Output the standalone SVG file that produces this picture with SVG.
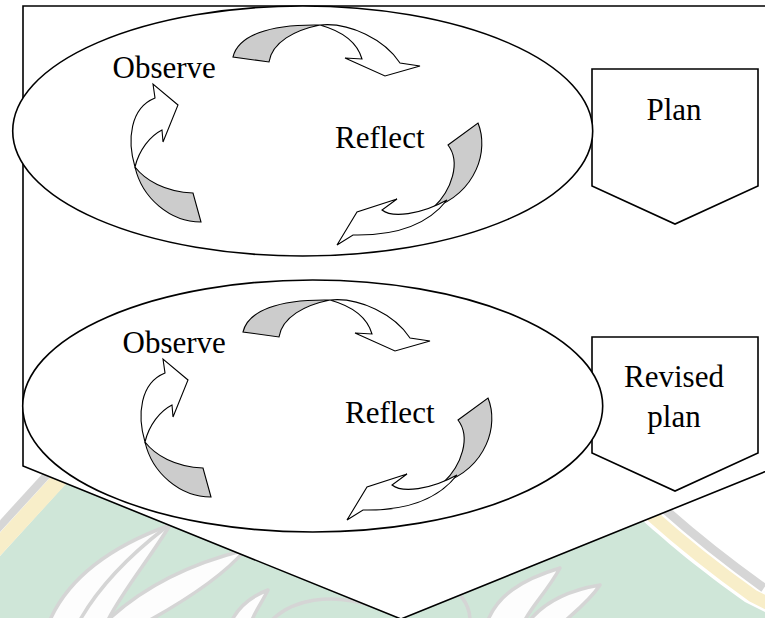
<svg xmlns="http://www.w3.org/2000/svg" width="765" height="618" viewBox="0 0 765 618">
<style>
.ln{fill:#fff;stroke:#000;stroke-width:1.6;stroke-linejoin:miter}
.arw{fill:#fff;stroke:#000;stroke-width:1.1;stroke-linejoin:miter}
.shd{fill:#cccccc;stroke:#000;stroke-width:1.1}
.lbl{font-family:"Liberation Serif","Times New Roman",serif;font-size:31px;fill:#000}
.wm-leaf{fill:#fdfdfd;stroke:#d5d5d5;stroke-width:3.5;stroke-linejoin:round}
.wm-line{fill:none;stroke:#d5d5d5;stroke-width:3.5;stroke-linecap:round}
</style>
<defs>
<g id="arrowset">
  <!-- top arrow -->
  <path class="shd" d="M233,57 C238,36 268,24 320,25 C295,30 272,42 269,62 Z"/>
  <path class="arw" d="M320,25 C350,22 385,40 400,63 L420,66 L385,76 L345,58 L362,59 C358,45 345,32 320,25 Z"/>
  <!-- right arrow -->
  <path class="shd" d="M448,145 L478,123 C489,150 477,192 433,208 C452,190 461,162 448,145 Z"/>
  <path class="arw" d="M447,200 C430,222 400,236 353,235 L337,245 L357,212 L397,199 L382,210 C392,218 420,215 447,200 Z"/>
  <!-- left arrow -->
  <path class="shd" d="M135,167 C145,180 165,192 193,193 L201,222 C170,222 142,198 135,167 Z"/>
  <path class="arw" d="M135,167 C127,140 130,108 155,98 L153,84 L178,105 L163,142 L162,130 C150,136 139,150 135,167 Z"/>
</g>
</defs>

<g id="watermark">
  <path fill="#cfe6d8" d="M-20,578 L110,435 L610,440 L642,520 C670,545 700,570 745,602 L765,612 L765,618 L-20,618 Z"/>
  <path fill="none" stroke="#f8eec9" stroke-width="16" d="M-30,577 L100,435"/>
  <path fill="none" stroke="#d6d6d6" stroke-width="8" d="M-43,573 L88,430"/>
  <path fill="none" stroke="#f8eec9" stroke-width="13" d="M618,454 L650,514 C678,539 708,564 753,596 L773,606"/>
  <path fill="none" stroke="#d6d6d6" stroke-width="9" d="M630,445 L661,506 C689,531 719,556 764,588"/>
  <path class="wm-leaf" d="M50,620 C70,575 115,545 170,525 C150,558 122,592 108,620 Z"/>
  <path class="wm-line" d="M80,620 C100,585 130,555 165,528"/>
  <path class="wm-leaf" d="M108,620 C140,590 185,565 245,550 C220,580 175,606 150,620 Z"/>
  <path class="wm-leaf" d="M232,620 C240,605 252,596 268,590 C262,602 255,612 252,620 Z"/>
  <path class="wm-line" d="M272,620 C292,600 330,592 372,606"/>
  <path class="wm-line" d="M440,580 C460,590 470,605 470,620"/>
  <path class="wm-leaf" d="M488,620 C498,596 520,580 560,568 C548,590 532,606 525,620 Z"/>
  <path class="wm-leaf" d="M530,620 C545,602 570,590 600,585 C590,600 575,612 566,620 Z"/>
</g>

<g id="frame">
  <polygon class="ln" points="23,6 779,6 779,466 401,619 23,466"/>
</g>

<g id="plan">
  <polygon class="ln" points="592,69 758,69 758,186 675,224 592,186"/>
  <text class="lbl" x="674" y="120" text-anchor="middle">Plan</text>
</g>
<g id="revised-plan">
  <polygon class="ln" points="592,337 758,337 758,453 675,491 592,453"/>
  <text class="lbl" x="674" y="387" text-anchor="middle">Revised</text>
  <text class="lbl" x="674" y="427" text-anchor="middle">plan</text>
</g>

<g id="cycle1">
  <ellipse class="ln" cx="302.7" cy="131" rx="290" ry="125"/>
</g>
<g id="cycle2">
  <ellipse class="ln" cx="312.7" cy="406" rx="290" ry="126"/>
</g>

<g id="connectors">
  <use href="#arrowset"/>
  <use href="#arrowset" transform="translate(10,275)"/>
</g>

<g id="observe1"><text class="lbl" x="112.5" y="78">Observe</text></g>
<g id="reflect1"><text class="lbl" x="335" y="148">Reflect</text></g>
<g id="observe2"><text class="lbl" x="122.5" y="353">Observe</text></g>
<g id="reflect2"><text class="lbl" x="345" y="423">Reflect</text></g>
</svg>
